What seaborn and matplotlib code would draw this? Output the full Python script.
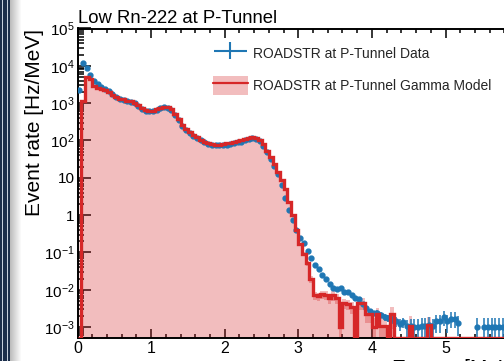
"""
Low Rn-222 at P-Tunnel: ROADSTR data vs gamma model energy spectrum.
"""
import numpy as np
import pandas as pd
import matplotlib
matplotlib.use('Agg')
import matplotlib.pyplot as plt
import seaborn as sns
from matplotlib.patches import Rectangle, Patch
from matplotlib.lines import Line2D
from matplotlib.legend_handler import HandlerTuple, HandlerErrorbar
from matplotlib.container import ErrorbarContainer
from matplotlib.ticker import LogLocator, FuncFormatter, MultipleLocator, NullFormatter

# binning (MeV)
bin_width = 0.05
n_bins = 120

# log10(rate [Hz/MeV]) per 0.05 MeV bin, None = empty bin
model_log = [
    None, 3.05, 3.70, 3.66, 3.47, 3.41, 3.38, 3.34, 3.30, 3.22,
    3.16, 3.12, 3.10, 3.07, 3.05, 3.01, 2.94, 2.86, 2.81, 2.79,
    2.80, 2.83, 2.87, 2.91, 2.90, 2.84, 2.72, 2.58, 2.42, 2.30,
    2.22, 2.15, 2.08, 2.02, 1.97, 1.93, 1.90, 1.89, 1.89, 1.90,
    1.92, 1.93, 1.95, 1.98, 2.00, 2.04, 2.07, 2.08, 2.07, 2.02,
    1.90, 1.72, 1.55, 1.38, 1.15, 0.95, 0.69, 0.36, 0.00, -0.39,
    -0.78, -1.05, -1.28, -1.72, -2.15, -2.18, -2.12, -2.14, -2.22, -2.15,
    -2.22, -2.99, -2.35, -2.38, -2.45, None, -2.36, -2.36, -2.66, -2.66,
    -3.00, -2.66, -2.98, -2.98, None, -2.66, None, None, None, None,
    -2.98, None, None, None, None, -2.95, None, None, None, None,
    None, None, None, None, None, None, None, None, None, None,
    None, None, None, None, None, None, None, None, None, None,
]
model_err_rel = (
    [0.01] * 58
    + [0.05, 0.08]
    + [0.10, 0.12, 0.15, 0.20, 0.25, 0.25, 0.25, 0.25, 0.30, 0.30]
    + [0.30, 0.60, 0.30, 0.30, 0.35, 0.00, 0.35, 0.35, 0.40, 0.40]
    + [0.80, 0.45, 0.70, 0.70, 0.00, 0.60, 0.00, 0.00, 0.00, 0.00]
    + [0.90, 0.00, 0.00, 0.00, 0.00, 0.70, 0.00, 0.00, 0.00, 0.00]
    + [0.0] * 20
)

data_log = [
    3.35, 4.07, 3.94, 3.76, 3.60, 3.51, 3.42, 3.37, 3.32, 3.24,
    3.17, 3.12, 3.09, 3.06, 3.04, 3.00, 2.93, 2.85, 2.80, 2.78,
    2.79, 2.82, 2.86, 2.89, 2.88, 2.81, 2.68, 2.54, 2.38, 2.27,
    2.19, 2.12, 2.06, 2.00, 1.95, 1.91, 1.88, 1.87, 1.87, 1.88,
    1.89, 1.90, 1.92, 1.95, 1.97, 2.01, 2.04, 2.06, 2.05, 1.99,
    1.86, 1.68, 1.50, 1.32, 1.10, 0.82, 0.46, 0.15, -0.14, -0.39,
    -0.61, -0.75, -0.95, -1.15, -1.33, -1.45, -1.60, -1.71, -1.84, -1.94,
    -1.98, -1.96, -2.06, -2.05, -2.14, -2.21, -2.25, -2.39, -2.49, -2.57,
    -2.63, -2.62, -2.67, -2.73, -2.76, -2.79, -2.84, -2.92, -2.86, -2.98,
    -2.96, -3.00, -3.00, -2.96, -2.96, -2.94, -2.98, -2.85, -2.85, -2.72,
    -2.85, -2.77, -2.77, -2.90, None, None, None, None, -3.00, None,
    -3.00, -3.00, -3.00, -3.00, -3.00, -3.00, None, None, None, None,
]
data_err_rel = (
    [0.02] * 60
    + [0.04, 0.05, 0.05, 0.06, 0.06, 0.07, 0.07, 0.08, 0.08, 0.08]
    + [0.09, 0.09, 0.10, 0.10, 0.11, 0.12, 0.12, 0.13, 0.15, 0.16]
    + [0.17, 0.17, 0.18, 0.20, 0.22, 0.25, 0.30, 0.35, 0.30, 0.50]
    + [0.50, 0.60, 0.60, 0.60, 0.60, 0.60, 0.60, 0.50, 0.50, 0.45]
    + [0.50, 0.45, 0.45, 0.55, 0.00, 0.00, 0.00, 0.00, 0.70, 0.00]
    + [0.70, 0.70, 0.70, 0.70, 0.70, 0.70, 0.00, 0.00, 0.00, 0.00]
)

title = 'Low Rn-222 at P-Tunnel'
data_label = 'ROADSTR at P-Tunnel Data'
model_label = 'ROADSTR at P-Tunnel Gamma Model'

RED = '#d62728'
BLUE = '#1f77b4'
Y_MIN, Y_MAX = 5.1e-4, 1e5

edges = np.arange(n_bins + 1) * bin_width
centers = edges[:-1] + bin_width / 2
model = np.array([0.0 if v is None else 10 ** v for v in model_log])
data = np.array([np.nan if v is None else 10 ** v for v in data_log])
model_err = model * np.array(model_err_rel)
data_err = data * np.array(data_err_rel)
model_df = pd.DataFrame({'energy': centers, 'rate': model})

sns.set_theme(style='ticks')
plt.rcParams['font.family'] = ['Liberation Sans', 'DejaVu Sans']
plt.rcParams['mathtext.fontset'] = 'custom'
plt.rcParams['mathtext.rm'] = 'Liberation Sans'
plt.rcParams['mathtext.it'] = 'Liberation Sans:italic'
plt.rcParams['mathtext.bf'] = 'Liberation Sans:bold'

fig = plt.figure(figsize=(5.04, 3.61), dpi=100)
ax = fig.add_axes([77.5 / 504, 23 / 361, 441.6 / 504, 309.5 / 361])
ax.set_yscale('log')

# model fill
sns.histplot(data=model_df, x='energy', weights='rate', binwidth=bin_width,
             binrange=(edges[0], edges[-1]), element='step',
             fill=True, color=RED, alpha=0.3, linewidth=0, ax=ax)

# model uncertainty band
has_err = model_err > 0
ax.bar(centers[has_err], 2 * model_err[has_err],
       bottom=np.clip(model[has_err] - model_err[has_err], 1e-6, None),
       width=bin_width, color=RED, alpha=0.3, linewidth=0, zorder=2)

# data points
ok = ~np.isnan(data)
ax.errorbar(centers[ok], data[ok], yerr=data_err[ok], xerr=bin_width / 2,
            fmt='o', ms=3.5, color=BLUE, ecolor=BLUE, elinewidth=1.1,
            capsize=0, zorder=3)
# legend proxy: bars only, no marker
data_handle = ax.errorbar([np.nan], [np.nan], yerr=[1], xerr=[1], fmt='none',
                          ecolor=BLUE, elinewidth=1.5, capsize=0)

# model line (empty bins drawn at frame bottom like ROOT)
ax.stairs(np.clip(model, Y_MIN, None), edges, color=RED, lw=2.4, baseline=None, zorder=4)

ax.set_xlim(0, 6)
ax.set_ylim(Y_MIN, Y_MAX)


def decade_fmt(v, pos):
    e = int(round(np.log10(v)))
    if e == 0:
        return '1'
    if e == 1:
        return '10'
    return r'$10^{%d}$' % e


ax.xaxis.set_major_locator(MultipleLocator(1))
ax.xaxis.set_minor_locator(MultipleLocator(0.2))
ax.yaxis.set_major_locator(LogLocator(base=10, numticks=20))
ax.yaxis.set_minor_locator(LogLocator(base=10, subs=np.arange(2, 10), numticks=100))
ax.yaxis.set_minor_formatter(NullFormatter())
ax.yaxis.set_major_formatter(FuncFormatter(decade_fmt))
ax.tick_params(which='both', direction='in', top=True, right=True, width=1.1,
               color='black', labelcolor='black', labelsize=11)
ax.tick_params(axis='x', which='major', length=6.7, pad=2, labelsize=11.5)
ax.tick_params(axis='x', which='minor', length=3.2)
ax.tick_params(axis='y', which='major', length=9, pad=2)
ax.tick_params(axis='y', which='minor', length=4.5)
for s in ax.spines.values():
    s.set_color('black')
    s.set_linewidth(1.4)

ax.set_title(title, loc='left', fontsize=13.3, pad=4, color='black')
ax.set_ylabel('Event rate [Hz/MeV]', loc='top', fontsize=15, color='black')
ax.yaxis.set_label_coords(-0.076, 1.0)
ax.set_xlabel('Energy [MeV]', loc='right', fontsize=15, labelpad=2.0, color='black')

model_handle = (Patch(facecolor=RED, alpha=0.3, linewidth=0), Line2D([], [], color=RED, lw=1.6))
ax.legend([data_handle, model_handle], [data_label, model_label],
          loc='upper left', bbox_to_anchor=(213 / 504, 1 - 43.5 / 361),
          bbox_transform=fig.transFigure, frameon=False, fontsize=10,
          handlelength=2.5, handleheight=1.75, handletextpad=0.35, labelspacing=0.95,
          borderpad=0, borderaxespad=0,
          handler_map={tuple: HandlerTuple(ndivide=1),
                       ErrorbarContainer: HandlerErrorbar(xerr_size=1.2, yerr_size=0.62)})

# window frame stripes at the left edge of the screenshot
stripes = [(0, 1.7, '#1c2e4a'), (1.7, 1.6, '#c8d0dc'), (3.3, 3.4, '#1c2e4a'),
           (6.7, 1.6, '#c8d0dc'), (8.3, 1.9, '#1c2e4a')]
for x0, w, c in stripes:
    fig.add_artist(Rectangle((x0 / 504, 0), w / 504, 1, transform=fig.transFigure,
                             facecolor=c, linewidth=0))
shade = np.linspace(0.74, 1.0, 12)
for i, g in enumerate(shade):
    fig.add_artist(Rectangle(((10.2 + i) / 504, 0), 1 / 504, 1, transform=fig.transFigure,
                             facecolor=(g, g, g), linewidth=0))

fig.savefig('out.png', dpi=100)
plt.close(fig)
